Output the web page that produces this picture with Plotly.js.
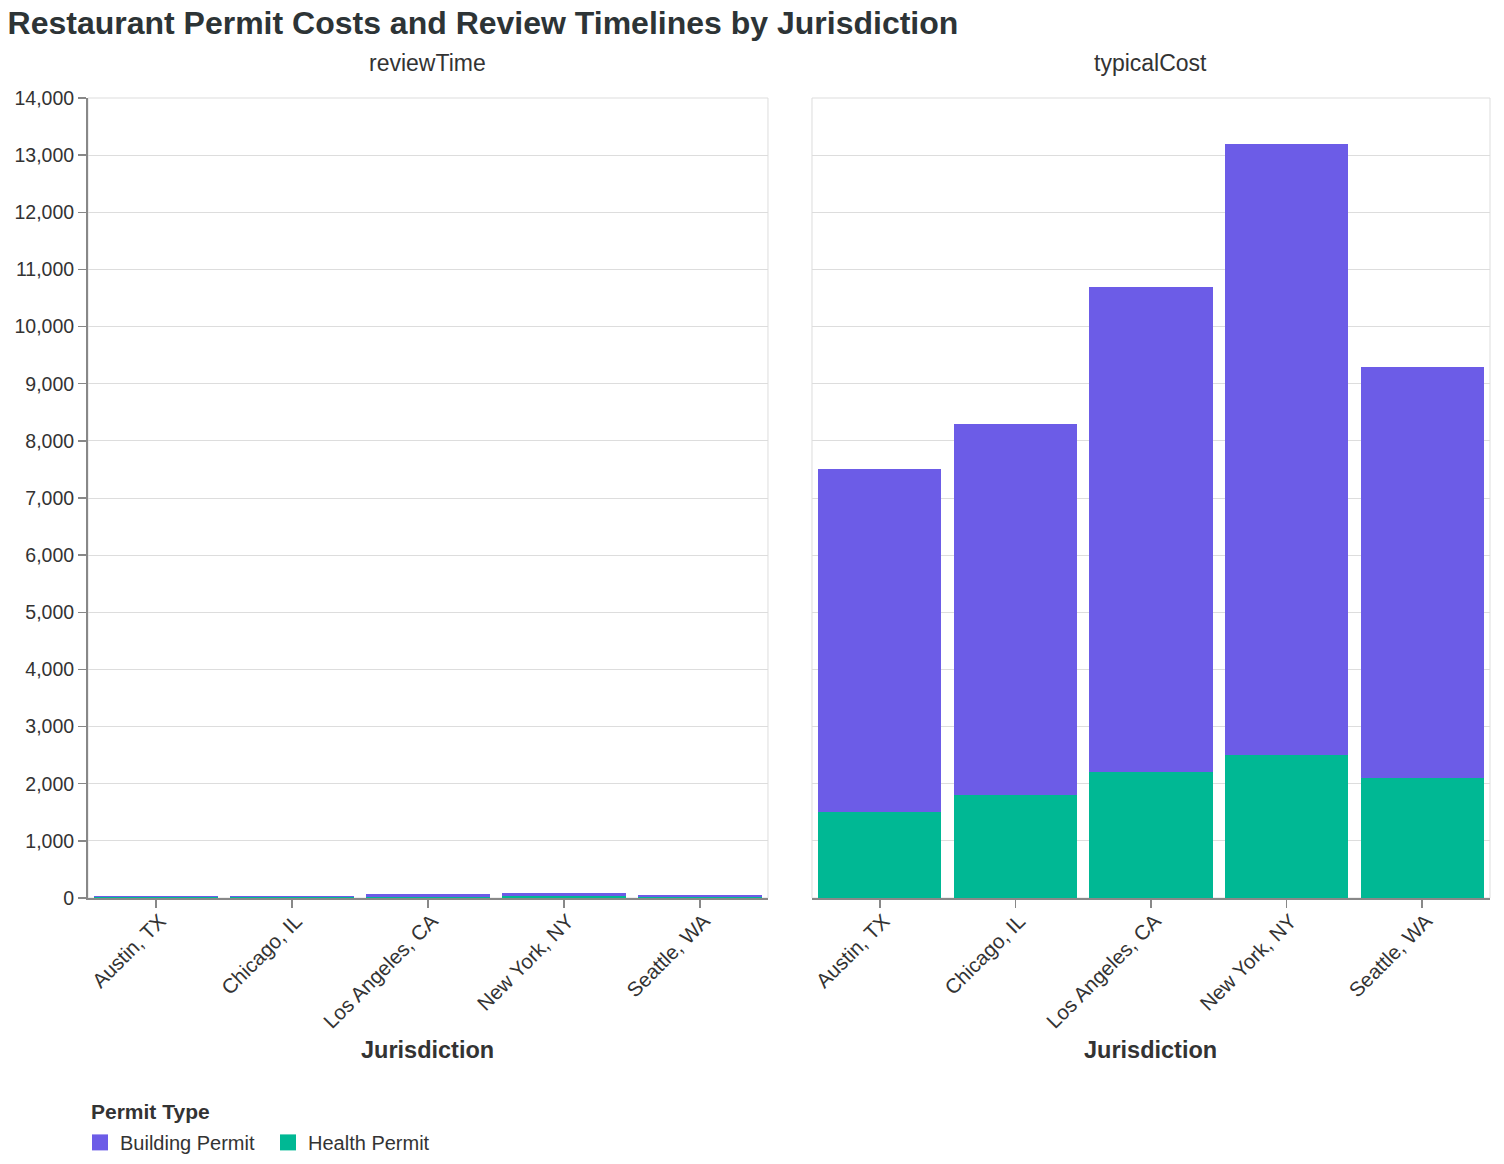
<!DOCTYPE html>
<html>
<head>
<meta charset="utf-8">
<script src="https://cdn.plot.ly/plotly-3.0.1.min.js"></script>
<style>html,body{margin:0;padding:0;background:#fff;}#chart{width:1504px;height:1164px;}</style>
</head>
<body>
<div id="chart"></div>
<script>
const jurisdictions = ["Austin, TX", "Chicago, IL", "Los Angeles, CA", "New York, NY", "Seattle, WA"];
const permitTypes = ["Building Permit", "Health Permit"];
const reviewTimeBuilding = [21, 25, 45, 60, 40];
const reviewTimeHealth = [14, 15, 21, 30, 18];
const typicalCostBuilding = [6000, 6500, 8500, 10700, 7200];
const typicalCostHealth = [1500, 1800, 2200, 2500, 2100];
const panelTitles = ["reviewTime", "typicalCost"];
const colors = {"Building Permit": "#6c5ce7", "Health Permit": "#00b894"};

const FONT = "Liberation Sans, Arial, Helvetica, sans-serif";
const TXT = "#333";

function barTrace(vals, type, xa, ya) {
  return {type: "bar", x: jurisdictions, y: vals, name: type, legendgroup: type,
    marker: {color: colors[type], line: {width: 0}}, xaxis: xa, yaxis: ya, showlegend: false};
}
function legendTrace(type) {
  // legend-only swatch: one point with no value, so nothing is drawn on the axes
  return {type: "scatter", mode: "markers", x: [jurisdictions[0]], y: [null], name: type, legendgroup: type,
    marker: {color: colors[type], symbol: "square", size: 16}, xaxis: "x", yaxis: "y",
    showlegend: true, hoverinfo: "skip"};
}

const traces = [
  barTrace(reviewTimeHealth, permitTypes[1], "x", "y"),
  barTrace(reviewTimeBuilding, permitTypes[0], "x", "y"),
  barTrace(typicalCostHealth, permitTypes[1], "x2", "y2"),
  barTrace(typicalCostBuilding, permitTypes[0], "x2", "y2"),
  legendTrace(permitTypes[0]),
  legendTrace(permitTypes[1])
];

const xCommon = {
  type: "category", categoryorder: "array", categoryarray: jurisdictions,
  showline: true, linecolor: "#888", linewidth: 2,
  ticks: "outside", ticklen: 8, tickcolor: "#888", tickwidth: 1.5,
  tickangle: -45, tickfont: {family: FONT, size: 20.5, color: TXT},
  ticklabelstandoff: -7, ticklabelshift: 4, automargin: false,
  showgrid: false, zeroline: false, fixedrange: true
};
const yCommon = {
  range: [0, 14000], dtick: 1000, tickformat: ",d",
  showgrid: true, gridcolor: "#ddd", gridwidth: 1, zeroline: false,
  ticks: "outside", ticklen: 8, tickcolor: "#888", tickwidth: 1.5, automargin: false,
  tickfont: {family: FONT, size: 19.5, color: TXT}, fixedrange: true
};

const layout = {
  width: 1504, height: 1164,
  margin: {l: 88, r: 14, t: 98, b: 266, autoexpand: false},
  paper_bgcolor: "#fff", plot_bgcolor: "#fff",
  font: {family: FONT, color: TXT},
  barmode: "stack", bargap: 0.09,
  title: {text: "<b>Restaurant Permit Costs and Review Timelines by Jurisdiction</b>",
          font: {family: FONT, size: 32, color: "#2d3436"},
          x: 0.005, xanchor: "left", y: 0.980, yanchor: "middle"},
  xaxis: Object.assign({}, xCommon, {domain: [0, 0.485], anchor: "y"}),
  xaxis2: Object.assign({}, xCommon, {domain: [0.5164, 1], anchor: "y2"}),
  yaxis: Object.assign({}, yCommon, {anchor: "x", showline: true, linecolor: "#888", linewidth: 2}),
  yaxis2: Object.assign({}, yCommon, {anchor: "x2", matches: "y", showticklabels: false, ticks: "", showline: false}),
  shapes: [
    {type: "rect", xref: "x domain", yref: "y domain", x0: 0, x1: 1, y0: 0, y1: 1, line: {color: "#ddd", width: 1}, layer: "below"},
    {type: "rect", xref: "x2 domain", yref: "y2 domain", x0: 0, x1: 1, y0: 0, y1: 1, line: {color: "#ddd", width: 1}, layer: "below"}
  ],
  annotations: [
    {text: panelTitles[0], xref: "paper", yref: "paper", x: 0.2425, y: 1, yshift: 35, showarrow: false,
     font: {family: FONT, size: 23, color: TXT}, xanchor: "center", yanchor: "middle"},
    {text: panelTitles[1], xref: "paper", yref: "paper", x: 0.7582, y: 1, yshift: 35, showarrow: false,
     font: {family: FONT, size: 23, color: TXT}, xanchor: "center", yanchor: "middle"},
    {text: "<b>Jurisdiction</b>", xref: "paper", yref: "paper", x: 0.2425, y: 0, yshift: -152, showarrow: false,
     font: {family: FONT, size: 23.5, color: TXT}, xanchor: "center", yanchor: "middle"},
    {text: "<b>Jurisdiction</b>", xref: "paper", yref: "paper", x: 0.7582, y: 0, yshift: -152, showarrow: false,
     font: {family: FONT, size: 23.5, color: TXT}, xanchor: "center", yanchor: "middle"},
    {text: "<b>Permit Type</b>", xref: "paper", yref: "paper", x: 0.0007, y: 0, yshift: -213, showarrow: false,
     font: {family: FONT, size: 21, color: TXT}, xanchor: "left", yanchor: "middle"}
  ],
  legend: {
    orientation: "h", x: -0.0057, xanchor: "left", y: -0.3055, yanchor: "middle",
    font: {family: FONT, size: 20, color: TXT},
    itemsizing: "trace", entrywidth: 143, entrywidthmode: "pixels"
  },
  showlegend: true
};

Plotly.newPlot("chart", traces, layout, {displayModeBar: false, staticPlot: true});
</script>
</body>
</html>
